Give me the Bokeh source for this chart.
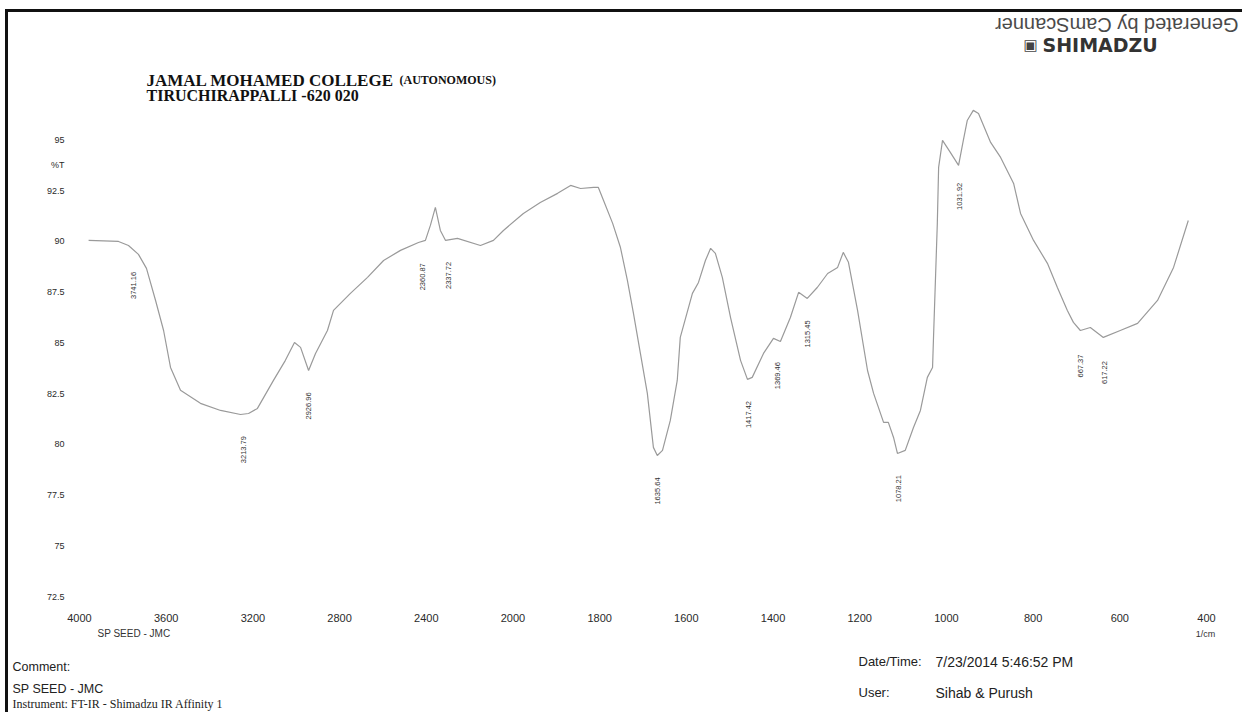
import numpy as np
from math import pi
from bokeh.plotting import figure
from bokeh.layouts import column
from bokeh.models import Range1d, FixedTicker, Label
from bokeh.embed import file_html
from bokeh.resources import INLINE
from bokeh.core.properties import value

# ---------------- data ----------------
wavenumber = [3958, 3820, 3774, 3728, 3691, 3649, 3612, 3580, 3534, 3442,
              3349, 3257, 3220, 3179, 3105, 3050, 3008, 2980, 2943, 2911,
              2856, 2828, 2750, 2671, 2597, 2519, 2436, 2404, 2381, 2358,
              2335, 2311, 2256, 2150, 2090, 2044, 1976, 1937, 1897, 1867,
              1844, 1814, 1803, 1791, 1770, 1752, 1736, 1722, 1706, 1690,
              1676, 1667, 1655, 1637, 1621, 1614, 1586, 1572, 1556, 1544,
              1533, 1517, 1498, 1475, 1459, 1448, 1422, 1399, 1383, 1360,
              1341, 1321, 1298, 1274, 1251, 1238, 1226, 1205, 1182, 1168,
              1145, 1134, 1122, 1113, 1095, 1076, 1060, 1044, 1032, 1030,
              1021, 1018, 1009, 991, 972, 961, 952, 938, 926, 898,
              875, 845, 829, 799, 767, 744, 721, 707, 691, 668,
              638, 599, 559, 513, 476, 442]
transmittance = [90.05, 90.00, 89.80, 89.36, 88.67, 87.09, 85.61, 83.79, 82.66, 82.02,
                 81.67, 81.47, 81.52, 81.77, 83.15, 84.14, 85.02, 84.78, 83.64, 84.48,
                 85.61, 86.60, 87.44, 88.23, 89.06, 89.56, 89.95, 90.05, 90.79, 91.68,
                 90.54, 90.05, 90.15, 89.80, 90.05, 90.54, 91.38, 91.92, 92.37, 92.76,
                 92.61, 92.66, 92.66, 92.02, 90.89, 89.70, 88.08, 86.45, 84.48, 82.51,
                 79.85, 79.45, 79.70, 81.18, 83.15, 85.27, 87.44, 87.98, 89.06, 89.66,
                 89.41, 88.23, 86.25, 84.14, 83.20, 83.30, 84.48, 85.22, 85.07, 86.25,
                 87.49, 87.19, 87.73, 88.42, 88.72, 89.46, 88.97, 86.60, 83.64, 82.51,
                 81.08, 81.08, 80.34, 79.55, 79.70, 80.83, 81.67, 83.30, 83.79, 85.12,
                 90.89, 93.65, 94.98, 94.39, 93.75, 94.98, 95.96, 96.46, 96.31, 94.88,
                 94.14, 92.86, 91.38, 90.05, 88.92, 87.73, 86.60, 86.01, 85.61, 85.76,
                 85.27, 85.61, 85.96, 87.09, 88.72, 91.03]

x_tick_labels = [4000, 3600, 3200, 2800, 2400, 2000, 1800, 1600, 1400, 1200, 1000, 800, 600, 400]
y_tick_labels = [72.5, 75, 77.5, 80, 82.5, 85, 87.5, 90, 92.5, 95]
y_unit = "%T"
x_unit = "1/cm"

peak_wavenumber = [3751, 3243, 2943, 2418, 2298, 1667, 1457, 1390, 1321, 1111, 970, 691, 636]
peak_text = ["3741.16", "3213.79", "2926.96", "2360.87", "2337.72", "1635.64", "1417.42",
             "1369.46", "1315.45", "1078.21", "1031.92", "667.37", "617.22"]


# Shimadzu x axis: 4000-2000 at half scale, 2000-400 at full scale
def to_axis(wn):
    wn = np.asarray(wn, dtype=float)
    return np.where(wn >= 2000, (4000 - wn) / 400.0, 5 + (2000 - wn) / 200.0)


W = 1234


def no_align(f):
    try:
        f.frame_align = False
    except Exception:
        pass


def blank(height, y_top, y_bottom):
    f = figure(frame_width=W, frame_height=height, min_border=0,
               x_range=Range1d(8, 8 + W), y_range=Range1d(y_bottom, y_top),
               x_axis_type=None, y_axis_type=None,
               output_backend="svg", toolbar_location=None)
    f.outline_line_color = None
    f.grid.visible = False
    f.background_fill_color = "white"
    f.border_fill_color = "white"
    no_align(f)
    return f


def lab(f, x, y, text, size="13px", font="Liberation Sans", style="normal",
        color="#222222", align="left", angle=0.0):
    f.add_layout(Label(x=x, y=y, text=text, text_font=font,
                       text_font_size=size, text_font_style=style,
                       text_color=color, text_align=align,
                       text_baseline="middle", angle=angle))


# ---------------- header strip ----------------
head = blank(93, 12, 105)
lab(head, 1238, 24, "Generated by CamScanner", size="20px", color="#4a4a4a", angle=pi)
lab(head, 1030, 44, "\u25a3", size="15px", font="DejaVu Sans", color="#444444", align="center")
lab(head, 1042, 44, "SHIMADZU", size="19px", font="DejaVu Sans", style="bold", color="#333333")
lab(head, 146, 80, "JAMAL MOHAMED COLLEGE", size="17px", font="Liberation Serif", style="bold", color="#111111")
lab(head, 399, 79, "(AUTONOMOUS)", size="12px", font="Liberation Serif", style="bold", color="#111111")
lab(head, 146, 95, "TIRUCHIRAPPALLI -620 020", size="16px", font="Liberation Serif", style="bold", color="#111111")

# ---------------- main spectrum ----------------
p = figure(frame_width=1127, frame_height=491,
           min_border_left=71, min_border_right=W - 71 - 1127,
           min_border_top=0, min_border_bottom=31,
           x_range=Range1d(0, 13), y_range=Range1d(72.5, 96.70),
           output_backend="svg", toolbar_location=None)
no_align(p)
p.background_fill_color = "white"
p.border_fill_color = "white"
p.outline_line_color = None
p.grid.visible = False

xt = to_axis(x_tick_labels)
p.xaxis.ticker = FixedTicker(ticks=list(xt))
p.xaxis.major_label_overrides = {float(t): str(l) for t, l in zip(xt, x_tick_labels)}
unit_pos = 93.75
p.yaxis.ticker = FixedTicker(ticks=y_tick_labels + [unit_pos])
y_over = {float(v): (str(v) if v % 1 else str(int(v))) for v in y_tick_labels}
y_over[unit_pos] = y_unit
p.yaxis.major_label_overrides = y_over
for a in (p.xaxis[0], p.yaxis[0]):
    a.axis_line_color = None
    a.major_tick_line_color = None
    a.minor_tick_line_color = None
    a.major_label_text_font = "Liberation Sans"
    a.major_label_text_color = "#2a2a2a"
p.xaxis.major_label_text_font_size = "11px"
p.xaxis.major_label_standoff = 11
p.yaxis.major_label_text_font_size = "9px"
p.yaxis.major_label_standoff = 9

xs = to_axis(wavenumber)
p.line(xs, transmittance, line_color="#9a9a9a", line_width=1.2)

# peak labels, rotated, just under the trace
px = to_axis(peak_wavenumber)
py = np.interp(px, xs, transmittance) - 1.75
p.text(x=px, y=py, text=peak_text, angle=pi / 2, text_align="center",
       text_baseline="middle", text_font=value("Liberation Sans"),
       text_font_size="7.5px", text_color="#333333")

# ---------------- footer strip ----------------
foot = blank(85, 627, 712)
lab(foot, 97, 633, "SP SEED - JMC", size="10px", color="#333333")
lab(foot, 1205, 633, x_unit, size="9px", color="#333333", align="center")
lab(foot, 12, 666, "Comment:", size="12.5px")
lab(foot, 12, 688, "SP SEED - JMC", size="12.5px")
lab(foot, 12, 703, "Instrument: FT-IR - Shimadzu IR Affinity 1", size="12px", font="Liberation Serif")
lab(foot, 858, 661, "Date/Time:", size="13px")
lab(foot, 935, 661, "7/23/2014 5:46:52 PM", size="14px")
lab(foot, 858, 692, "User:", size="13px")
lab(foot, 935, 692, "Sihab & Purush", size="14px")

page = column(head, p, foot, spacing=0)
page.styles = {"margin-left": "5px", "margin-top": "9px",
               "border-top": "3px solid #111", "border-left": "3px solid #111"}

open("out.html", "w").write(file_html(page, INLINE))
